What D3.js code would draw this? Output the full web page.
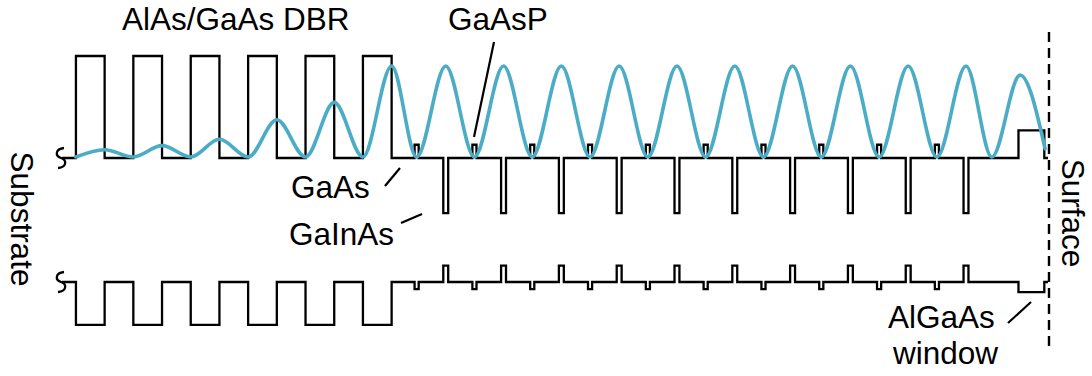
<!DOCTYPE html>
<html>
<head>
<meta charset="utf-8">
<script src="https://cdn.jsdelivr.net/npm/d3@7"></script>
<style>
  html, body { margin: 0; padding: 0; background: #fff; }
  svg { display: block; }
  text { font-family: "Liberation Sans", Arial, Helvetica, sans-serif; font-size: 31.5px; fill: #000; }
</style>
</head>
<body>
<svg id="chart" width="1092" height="376"></svg>
<script>
// Band-edge offsets per material (relative units, GaAs = 0)
const materials      = ["GaAs", "AlAs", "GaAsP", "GaInAs", "AlGaAs"];
const conductionEdge = [0, 1.0, 0.13, -0.54, 0.27];
const valenceEdge    = [0, -0.42, -0.07, 0.16, -0.10];

// Layer stack from substrate to surface (thicknesses in nm)
const substrateNm = 34;
const dbrPairs = 6;
const dbrLayerNm = 70;
const spacerNm = 56;
const qwPeriods = 10;
const qwPeriodLayers = ["GaAsP", "GaAs", "GaInAs", "GaAs"];
const qwPeriodNm = [10, 60, 12, 59];
const capSpacerNm = 63;
const windowNm = 63;
const capNm = 9;

// Standing-wave intensity |E|^2 at its extrema: depth (nm), normalised value
const waveDepth = [34, 104, 174, 244, 314, 384, 454, 524, 594, 664, 734, 804,
                   865, 936, 1006, 1077, 1147, 1218, 1288, 1359, 1429, 1500,
                   1570, 1641, 1711, 1782, 1852, 1923, 1993, 2064, 2134, 2205,
                   2268, 2337, 2398];
const waveIntensity = [0, 0.08, 0, 0.125, 0, 0.195, 0, 0.41, 0, 0.6, 0, 1.0,
                       0, 1, 0, 1, 0, 1, 0, 1, 0, 1,
                       0, 1, 0, 1, 0, 1, 0, 1, 0, 1,
                       0, 0.9, 0.09];

// ---- build the layer list ----
const layers = [];
layers.push({ m: "GaAs", t: substrateNm });
for (let i = 0; i < dbrPairs; i++) {
  layers.push({ m: "AlAs", t: dbrLayerNm });
  if (i < dbrPairs - 1) layers.push({ m: "GaAs", t: dbrLayerNm });
}
layers.push({ m: "GaAs", t: spacerNm });
for (let p = 0; p < qwPeriods; p++) {
  qwPeriodLayers.forEach((m, j) => layers.push({ m, t: qwPeriodNm[j] }));
}
layers.push({ m: "GaAs", t: capSpacerNm });
layers.push({ m: "AlGaAs", t: windowNm });
layers.push({ m: "GaAs", t: capNm });

let acc = 0;
layers.forEach(l => { l.start = acc; acc += l.t; l.end = acc; });
const totalNm = acc;

const ec = m => conductionEdge[materials.indexOf(m)];
const ev = m => valenceEdge[materials.indexOf(m)];

// ---- scales ----
const x  = d3.scaleLinear().domain([0, totalNm]).range([62, 1048]);
const yC = d3.scaleLinear().domain([0, 1]).range([158, 56]);
const yV = d3.scaleLinear().domain([0, 1]).range([282, 180]);
const yW = d3.scaleLinear().domain([0, 1]).range([157, 66]);

const svg = d3.select("#chart");

// ---- band profiles ----
function profile(level) {
  const pts = [];
  layers.forEach(l => { pts.push([l.start, level(l.m)]); pts.push([l.end, level(l.m)]); });
  return pts;
}
const stepLine = yScale => d3.line().x(d => x(d[0])).y(d => yScale(d[1]));

svg.append("path")
  .attr("d", stepLine(yC)(profile(ec)))
  .attr("fill", "none").attr("stroke", "#000").attr("stroke-width", 2.3)
  .attr("stroke-linejoin", "miter");

svg.append("path")
  .attr("d", stepLine(yV)(profile(ev)))
  .attr("fill", "none").attr("stroke", "#000").attr("stroke-width", 2.3)
  .attr("stroke-linejoin", "miter");

// break marks at the substrate end
function breakMark(cx, cy) {
  const p = d3.path();
  p.moveTo(cx + 3, cy - 10);
  p.bezierCurveTo(cx - 6, cy - 9, cx - 6, cy - 2, cx, cy);
  p.bezierCurveTo(cx + 6, cy + 2, cx + 6, cy + 9, cx - 3, cy + 10);
  return p.toString();
}
[yC(0), yV(0)].forEach(cy => {
  svg.append("path").attr("d", breakMark(x(0) - 1, cy))
    .attr("fill", "none").attr("stroke", "#000").attr("stroke-width", 2.3);
});

// ---- optical standing wave ----
const wave = waveDepth.map((d, i) => [d, waveIntensity[i]]);
svg.append("path")
  .attr("d", d3.line().x(d => x(d[0])).y(d => yW(d[1])).curve(d3.curveMonotoneX)(wave))
  .attr("fill", "none").attr("stroke", "#4BACC6").attr("stroke-width", 3.6)
  .attr("stroke-linecap", "round");

// ---- surface marker ----
svg.append("line")
  .attr("x1", x(totalNm) + 1).attr("x2", x(totalNm) + 1)
  .attr("y1", 32).attr("y2", 346)
  .attr("stroke", "#000").attr("stroke-width", 2.4).attr("stroke-dasharray", "10,6");

// ---- labels ----
const labels = [
  { t: "AlAs/GaAs DBR", x: 122, y: 30 },
  { t: "GaAsP", x: 448, y: 30 },
  { t: "GaAs", x: 291, y: 198 },
  { t: "GaInAs", x: 289, y: 245 },
  { t: "AlGaAs", x: 888, y: 328 },
  { t: "window", x: 893, y: 364 }
];
svg.selectAll("text.lbl").data(labels).enter().append("text")
  .attr("class", "lbl").attr("x", d => d.x).attr("y", d => d.y).text(d => d.t);

svg.append("text").attr("transform", "translate(11,219) rotate(90)")
  .attr("text-anchor", "middle").text("Substrate");
svg.append("text").attr("transform", "translate(1062,213) rotate(90)")
  .attr("text-anchor", "middle").text("Surface");

// leader lines
const leaders = [
  [494, 42, 474, 137],
  [385, 186, 400, 168],
  [401, 223, 422, 214],
  [1008, 323, 1031, 302]
];
svg.selectAll("line.leader").data(leaders).enter().append("line")
  .attr("class", "leader")
  .attr("x1", d => d[0]).attr("y1", d => d[1]).attr("x2", d => d[2]).attr("y2", d => d[3])
  .attr("stroke", "#000").attr("stroke-width", 2.2);
</script>
</body>
</html>
